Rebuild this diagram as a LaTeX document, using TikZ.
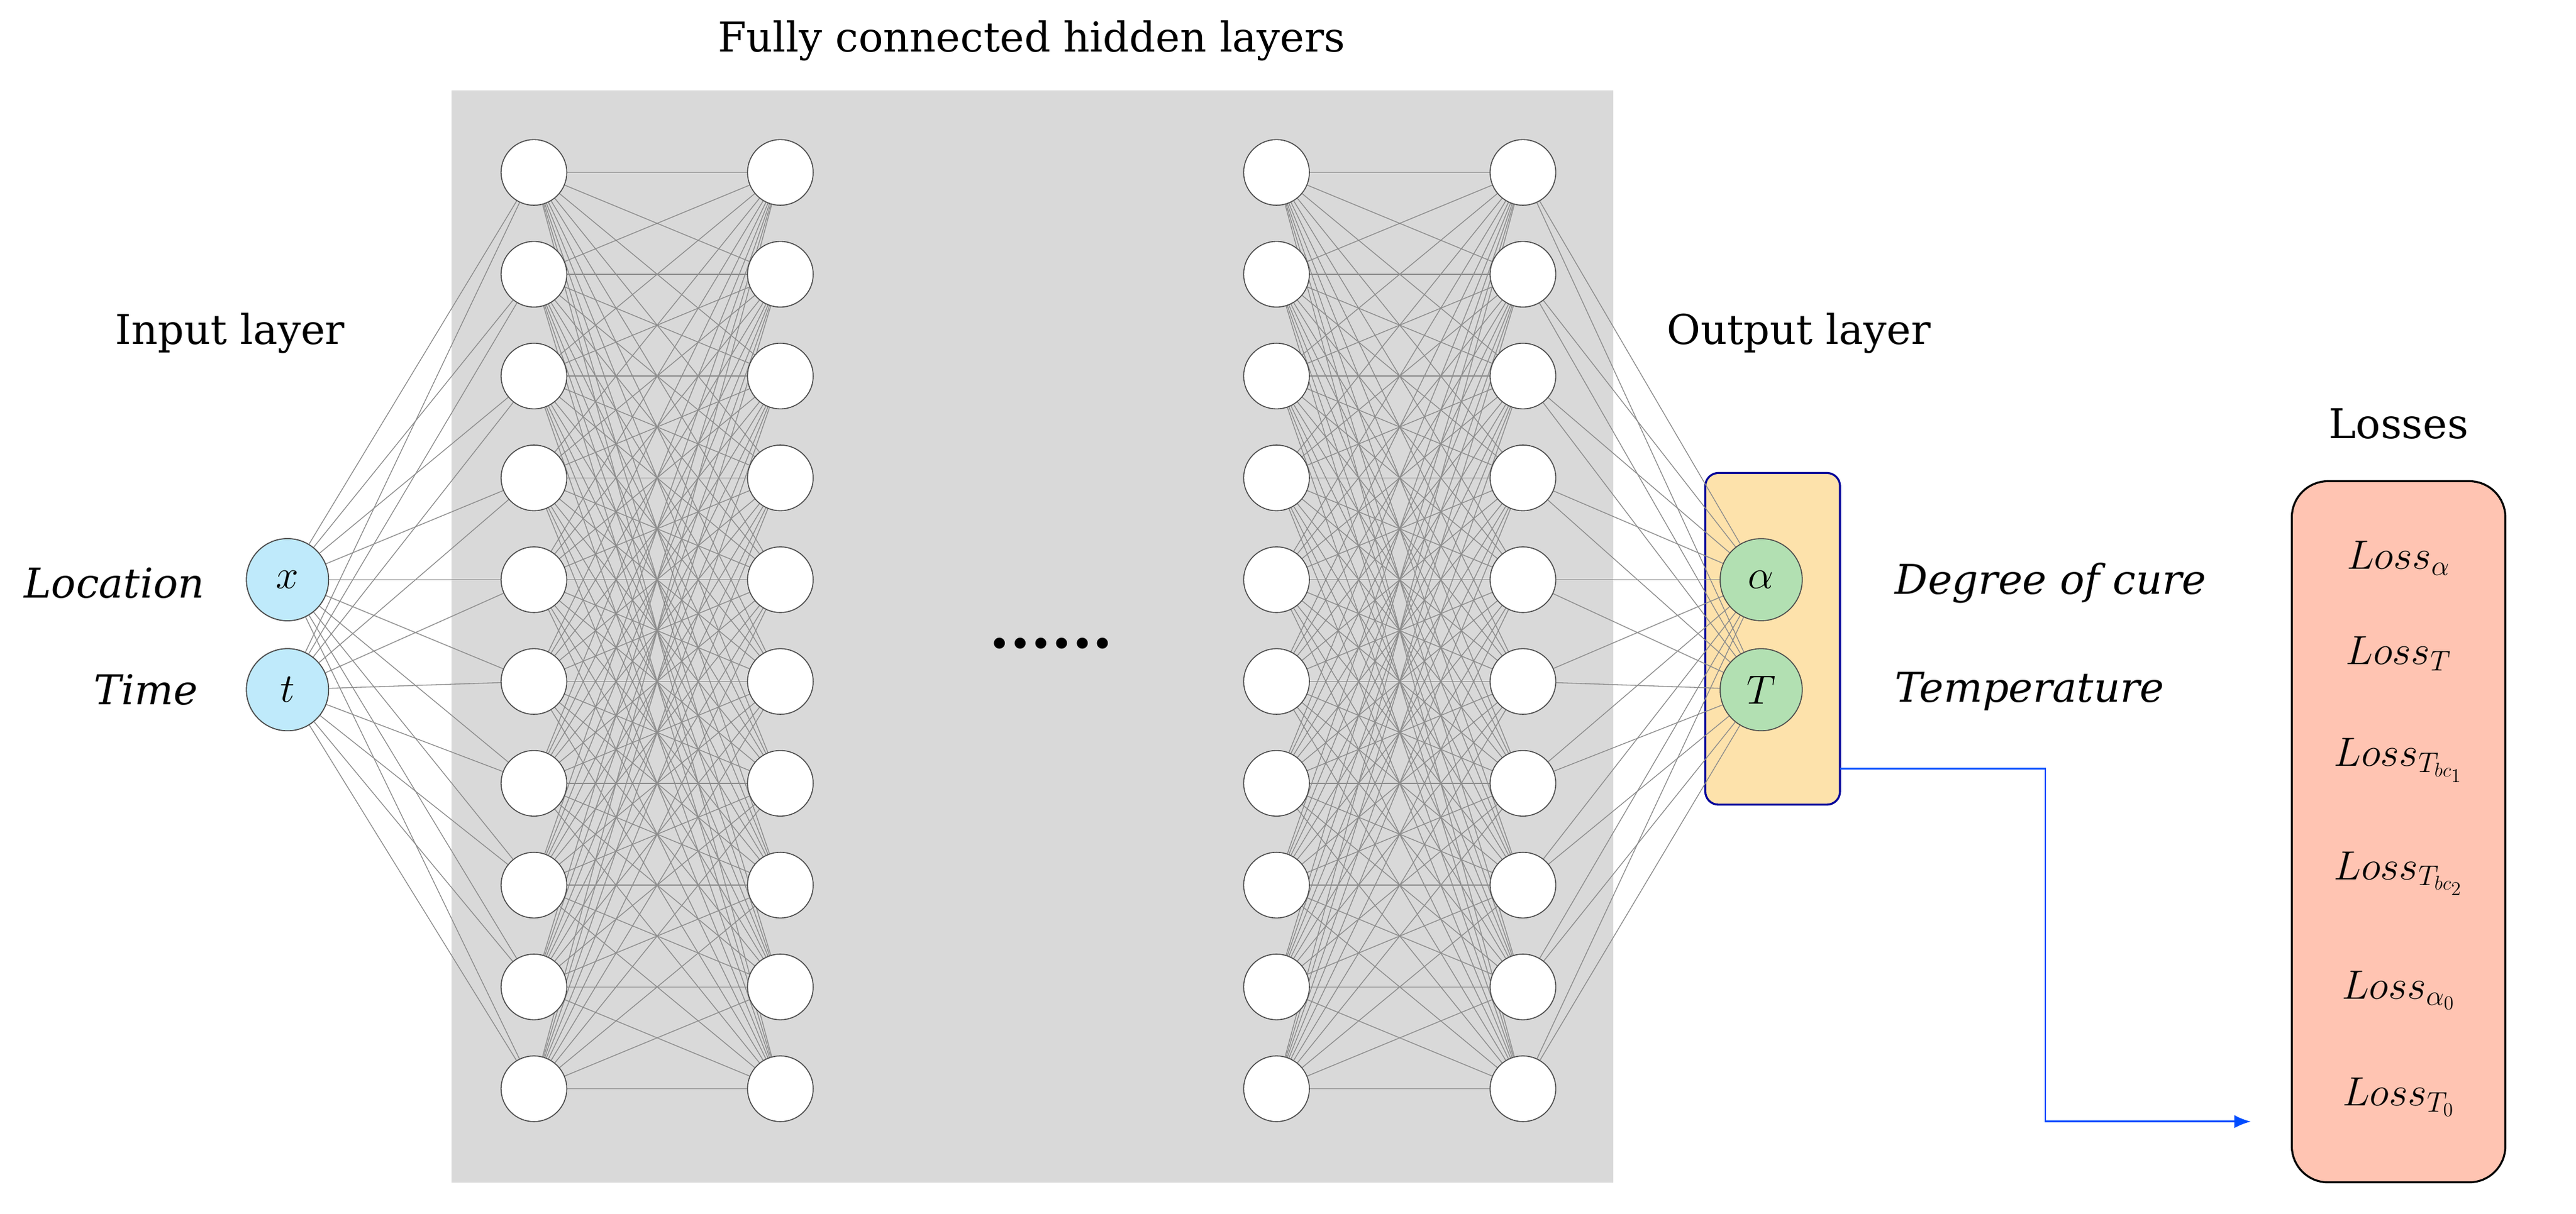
\documentclass[tikz,border=0pt]{standalone}
\usepackage{fontspec}
\setmainfont{DejaVu Serif}
\usetikzlibrary{arrows.meta}
\begin{document}
\begin{tikzpicture}[x=1pt,y=-1pt,
  hid/.style={circle,draw=black!70,fill=white,minimum size=40pt,inner sep=0pt,line width=0.6pt},
  inp/.style={circle,draw=black!70,fill=cyan!25,minimum size=50pt,inner sep=0pt,line width=0.6pt,font=\fontsize{30}{30}\selectfont},
  outn/.style={circle,draw=black!70,fill=green!60!black!30,minimum size=50pt,inner sep=0pt,line width=0.6pt,font=\fontsize{30}{30}\selectfont},
  edge/.style={draw=black!45,line width=0.5pt},
  lbl/.style={font=\fontsize{25}{30}\selectfont},
  loss/.style={font=\fontsize{26}{30}\selectfont}]
\useasboundingbox (0,0) rectangle (1568,739);
\fill[black!15] (275,55) rectangle (982,720);
\node[lbl] (title) at (628,25) {Fully connected hidden layers};
\foreach \c/\x in {1/325,2/475,3/777,4/927}{
  \foreach \r in {1,...,10}{
    \coordinate (n\c-\r) at (\x,{105+62*(\r-1)});
  }}
\node[inp] (x) at (175,353) {$x$};
\node[inp] (t) at (175,420) {$t$};
\draw[rounded corners=8pt,draw=blue!60!black,fill=yellow!30!orange!30,line width=1.2pt] (1038,288) rectangle (1120,490);
\coordinate (ob) at (1120,468);
\foreach \r in {1,...,10}{
  \draw[edge] (x) -- (n1-\r);
  \draw[edge] (t) -- (n1-\r);
  \draw[edge] (n4-\r) -- (1072,353);
  \draw[edge] (n4-\r) -- (1072,420);
  \foreach \s in {1,...,10}{
    \draw[edge] (n1-\r) -- (n2-\s);
    \draw[edge] (n3-\r) -- (n4-\s);
  }}
\foreach \c in {1,...,4}{\foreach \r in {1,...,10}{\node[hid] (h\c-\r) at (n\c-\r) {};}}
\node[inp] at (175,353) {$x$};
\node[inp] at (175,420) {$t$};
\node[outn] (a) at (1072,353) {$\alpha$};
\node[outn] (T) at (1072,420) {$T$};
\node[font=\fontsize{36}{36}\selectfont\bfseries] (dots) at (640,392) {......};
\node[lbl] (il) at (140,203) {Input layer};
\node[lbl] (ol) at (1095,203) {Output layer};
\node[lbl,anchor=east] (loc) at (128,355) {\itshape Location};
\node[lbl,anchor=east] (tim) at (124,420) {\itshape Time};
\node[lbl,anchor=west] (doc) at (1150,355) {\itshape Degree of cure};
\node[lbl,anchor=west] (tem) at (1150,421) {\itshape Temperature};
\node[lbl] (ll) at (1460,258) {Losses};
\draw[rounded corners=22pt,fill=orange!45!red!30,draw=black,line width=1.2pt] (1395,293) rectangle (1525,720);
\node[loss] (l1) at (1460,340) {$Loss_\alpha$};
\node[loss] (l2) at (1460,398) {$Loss_T$};
\node[loss] (l3) at (1460,463) {$Loss_{T_{bc_1}}$};
\node[loss] (l4) at (1460,532) {$Loss_{T_{bc_2}}$};
\node[loss] (l5) at (1460,603) {$Loss_{\alpha_0}$};
\node[loss] (l6) at (1460,668) {$Loss_{T_0}$};
\coordinate (ae) at (1370,683);
\draw[blue!70!cyan,line width=1pt,-{Latex[length=10pt,width=8pt]}] (ob) -- (1245,468) -- (1245,683) -- (ae);
\end{tikzpicture}
\end{document}
